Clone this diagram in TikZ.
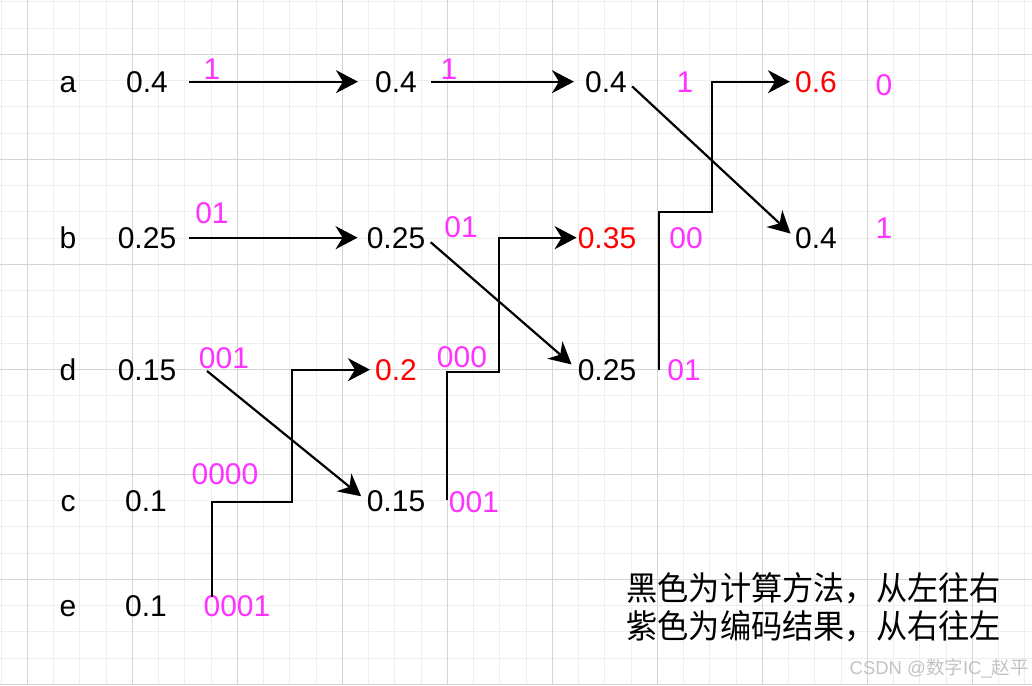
\documentclass[tikz,border=0pt]{standalone}
\usepackage{fontspec}
\setmainfont{Liberation Sans}
\newfontfamily\cjk{Noto Sans CJK SC}
\usetikzlibrary{arrows.meta}
\definecolor{mag}{RGB}{255,51,255}
\definecolor{gmajor}{RGB}{212,212,212}
\definecolor{gminor}{RGB}{238,238,238}
\definecolor{wmgray}{RGB}{195,195,195}
\begin{document}
\begin{tikzpicture}[x=1pt,y=-1pt,
  txt/.style={inner sep=0pt, anchor=base, font=\fontsize{30}{36}\selectfont},
  code/.style={txt, text=mag},
  rednum/.style={txt, text=red},
  conn/.style={line width=2.2pt, -{Stealth[length=22pt,width=23pt,inset=7pt]}},
  note/.style={inner sep=0pt, anchor=base east, font=\cjk\fontsize{31.2}{38}\selectfont}
]
\useasboundingbox[fill=white] (0,0) rectangle (1032,685);
% grid
\foreach \i in {0,...,39} {\draw[gminor, line width=1pt] ({1.05+26.25*\i},0) -- ({1.05+26.25*\i},685);}
\foreach \j in {0,...,26} {\draw[gminor, line width=1pt] (0,{1.8+26.25*\j}) -- (1032,{1.8+26.25*\j});}
\foreach \i in {0,...,9} {\draw[gmajor, line width=1pt] ({27.3+105*\i},0) -- ({27.3+105*\i},685);}
\foreach \j in {0,...,6} {\draw[gmajor, line width=1pt] (0,{54.3+105*\j}) -- (1032,{54.3+105*\j});}
% column 0: letters
\node[txt] (la) at (68,92) {a};
\node[txt] (lb) at (68,248) {b};
\node[txt] (ld) at (68,380) {d};
\node[txt] (lc) at (68,511) {c};
\node[txt] (le) at (68,616) {e};
% column 1
\node[txt] (a1) at (147,92) {0.4};
\node[txt] (b1) at (147,248) {0.25};
\node[txt] (d1) at (147,380) {0.15};
\node[txt] (c1) at (146,511) {0.1};
\node[txt] (e1) at (146,616) {0.1};
\node[code] (ka1) at (212,79) {1};
\node[code] (kb1) at (212,223) {01};
\node[code] (kd1) at (224,368) {001};
\node[code] (kc1) at (225,484) {0000};
\node[code] (ke1) at (237,616) {0001};
% column 2
\node[txt] (a2) at (396,92) {0.4};
\node[txt] (b2) at (396,248) {0.25};
\node[rednum] (d2) at (396,380) {0.2};
\node[txt] (c2) at (396,511) {0.15};
\node[code] (ka2) at (449,79) {1};
\node[code] (kb2) at (461,237) {01};
\node[code] (kd2) at (462,367) {000};
\node[code] (kc2) at (474,512) {001};
% column 3
\node[txt] (a3) at (606,92) {0.4};
\node[rednum] (b3) at (607,248) {0.35};
\node[txt] (d3) at (607,380) {0.25};
\node[code] (ka3) at (685,92) {1};
\node[code] (kb3) at (686,248) {00};
\node[code] (kd3) at (684,380) {01};
% column 4
\node[rednum] (a4) at (816,92) {0.6};
\node[txt] (b4) at (816,248) {0.4};
\node[code] (ka4) at (884,95) {0};
\node[code] (kb4) at (884,238) {1};
% straight arrows
\draw[conn, shorten <=21pt, shorten >=17pt] (a1.east) -- (a2.west);
\draw[conn, shorten <=14pt, shorten >=11pt] (a2.east) -- (a3.west);
\draw[conn, shorten <=13pt, shorten >=9pt] (b1.east) -- (b2.west);
\draw[conn, shorten <=7pt, shorten >=6pt] (a3.east) -- (b4.west);
\draw[conn, shorten <=7pt, shorten >=8pt] (b2.east) -- (d3.west);
\coordinate (sd1) at (207,371);
\draw[conn, shorten >=7pt] (sd1) -- (c2.west);
% merge (step) arrows
\coordinate (s1) at (212,597);
\draw[conn, shorten >=5pt] (s1) |- (292,502) |- (d2.west);
\coordinate (s2) at (447,500);
\draw[conn, shorten >=1pt] (s2) |- (499,372) |- (b3.west);
\coordinate (s3) at (659,370);
\draw[conn, shorten >=5pt] (s3) |- (712,212) |- (a4.west);
% notes
\node[note] (n1) at (1001,600) {\scalebox{1}[1.06]{黑色为计算方法，从左往右}};
\node[note] (n2) at (1001,638) {\scalebox{1}[1.06]{紫色为编码结果，从右往左}};
\node[inner sep=0pt, anchor=base east, text=wmgray, font=\fontsize{18.5}{22}\selectfont] (wm) at (1029,674) {CSDN @{\cjk 数字}IC\_{\cjk 赵平}};
\end{tikzpicture}
\end{document}
